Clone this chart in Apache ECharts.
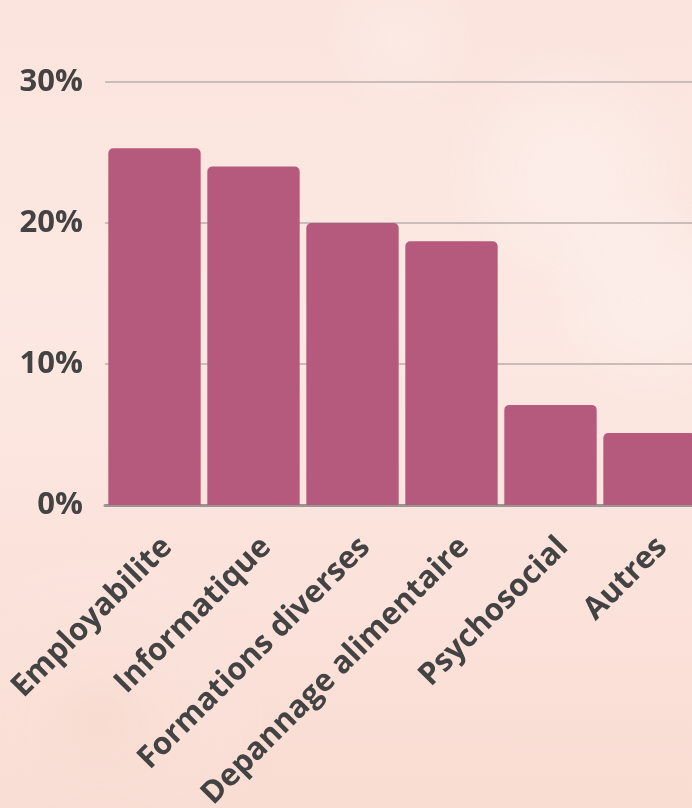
<!DOCTYPE html>
<html>
<head>
<meta charset="utf-8">
<script src="https://cdn.jsdelivr.net/npm/echarts@6/dist/echarts.min.js"></script>
<style>
html,body{margin:0;padding:0;}
body{width:692px;height:808px;overflow:hidden;
background:linear-gradient(180deg,#fbe4dd 0%,#fce8e2 40%,#fbe2da 75%,#f9dcd2 100%);}
#chart{width:692px;height:808px;}
</style>
</head>
<body>
<div id="chart"></div>
<script>
const categories = ['Employabilite','Informatique','Formations diverses','Depannage alimentaire','Psychosocial','Autres'];
const values = [25.3, 24.0, 20.0, 18.7, 7.1, 5.1];
const yTicks = [0, 10, 20, 30];

const chart = echarts.init(document.getElementById('chart'), null, {renderer:'canvas'});
const font = '"Open Sans", "Noto Sans", sans-serif';
function blob(cx, cy, r, c) {
  return {type:'circle', shape:{cx:cx, cy:cy, r:r}, z:-10, silent:true,
    style:{fill:{type:'radial', x:0.5, y:0.5, r:0.5, colorStops:[{offset:0,color:c},{offset:1,color:'rgba(255,255,255,0)'}]}}};
}
chart.setOption({
  backgroundColor: 'transparent',
  animation: false,
  graphic: [
    blob(570, 170, 130, 'rgba(255,246,243,0.45)'),
    blob(650, 300, 110, 'rgba(255,246,243,0.4)'),
    blob(400, 40, 80, 'rgba(255,246,243,0.3)'),
    blob(100, 720, 180, 'rgba(246,212,200,0.3)')
  ],
  grid: {left:105, right:-7, top:82, bottom:303, containLabel:false, outerBoundsMode:'none'},
  xAxis: {
    type:'category',
    data: categories,
    axisLine:{show:true, lineStyle:{color:'#9a9494', width:3}},
    axisTick:{show:false},
    axisLabel:{rotate:45, interval:0, margin:50, padding:[0,-18,0,0], color:'#434343', fontSize:31, fontWeight:'bold', fontFamily:font}
  },
  yAxis: {
    type:'value',
    min: yTicks[0], max: yTicks[yTicks.length-1], interval:10,
    axisLine:{show:false}, axisTick:{show:false},
    splitLine:{show:true, lineStyle:{color:'#c9bcbb', width:2}},
    axisLabel:{margin:22, color:'#434343', fontSize:31, fontWeight:'bold', fontFamily:font, formatter: v => v + '%'}
  },
  series: [{
    type:'bar',
    data: values,
    barCategoryGap:'6.7%',
    itemStyle:{color:'#b55a7c', borderRadius:[5,5,0,0]}
  }]
});
</script>
</body>
</html>
